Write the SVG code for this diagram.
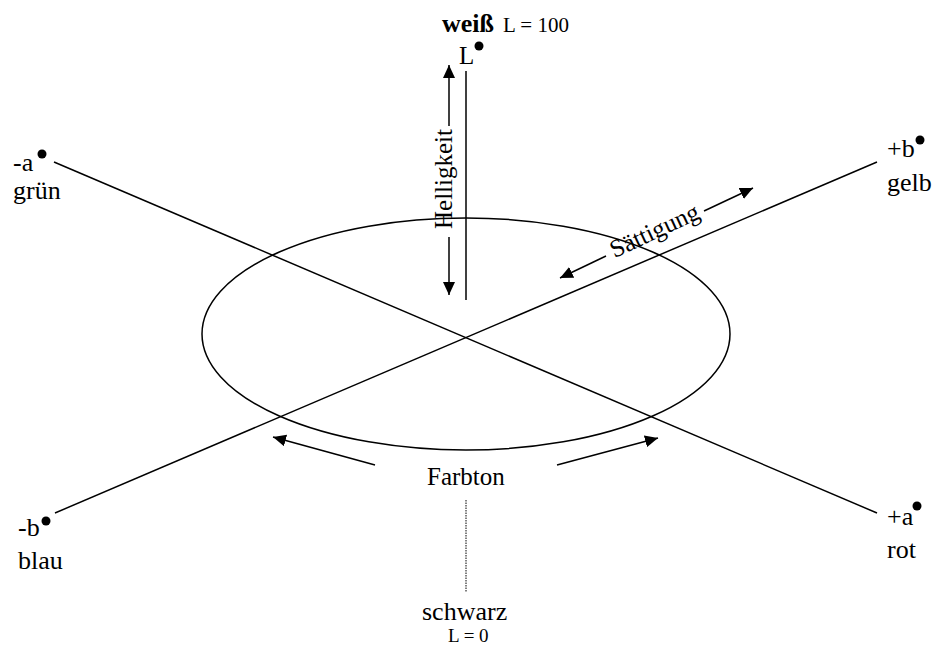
<svg xmlns="http://www.w3.org/2000/svg" width="937" height="646" viewBox="0 0 937 646">
<style>
text{font-family:"Liberation Serif","Times New Roman",serif;fill:#000}
.lbl{font-size:26px}
.sm{font-size:20px}
.mid{font-size:25px}
.ln{stroke:#000;stroke-width:1.5;fill:none}
.arr{stroke:#000;stroke-width:1.5;fill:none;marker-end:url(#ah)}
.dot{fill:#000}
</style>
<defs>
<marker id="ah" markerUnits="userSpaceOnUse" markerWidth="14" markerHeight="12" refX="13" refY="6" orient="auto">
<path d="M0,0 L13,6 L0,12 Z" fill="#000"/>
</marker>
</defs>
<rect width="937" height="646" fill="#fff"/>
<g id="farbkreis">
<ellipse cx="466" cy="334" rx="264" ry="116" class="ln" stroke-width="1.4"/>
</g>
<g id="connectors">
<line class="ln" x1="54" y1="162" x2="877" y2="513"/>
<line class="ln" x1="55" y1="513" x2="877" y2="162"/>
<line class="ln" x1="466" y1="71" x2="466" y2="300"/>
<line x1="466" y1="500" x2="466" y2="592" stroke="#000" stroke-width="1" stroke-dasharray="1.5 1"/>
<line class="arr" x1="449" y1="126" x2="449" y2="65"/>
<line class="arr" x1="449" y1="237" x2="449" y2="295"/>
<line class="arr" x1="606" y1="256" x2="560" y2="278"/>
<line class="arr" x1="704" y1="211" x2="753" y2="188"/>
<line class="arr" x1="375" y1="465" x2="273" y2="437"/>
<line class="arr" x1="557" y1="465" x2="658" y2="438"/>
</g>
<g id="node-weiss">
<text x="442" y="32" style="font-size:26px;font-weight:bold">weiß</text>
<text x="503" y="32" style="font-size:21px">L = 100</text>
<text x="459" y="64" class="mid">L</text>
<circle class="dot" cx="479" cy="46" r="4.5"/>
</g>
<g id="node-gruen">
<text x="13" y="171" class="lbl">-a</text>
<text x="13" y="199" class="lbl">grün</text>
<circle class="dot" cx="42" cy="154" r="4.5"/>
</g>
<g id="node-gelb">
<text x="887" y="157" class="lbl">+b</text>
<text x="887" y="191" class="lbl">gelb</text>
<circle class="dot" cx="920" cy="140" r="4.5"/>
</g>
<g id="node-blau">
<text x="18" y="536" class="lbl">-b</text>
<text x="18" y="569" class="lbl">blau</text>
<circle class="dot" cx="46" cy="521" r="4.5"/>
</g>
<g id="node-rot">
<text x="887" y="525" class="lbl">+a</text>
<text x="887" y="558" class="lbl">rot</text>
<circle class="dot" cx="917" cy="506" r="4.5"/>
</g>
<g id="node-schwarz">
<text x="422" y="620" class="lbl">schwarz</text>
<text x="448" y="642" style="font-size:19px">L = 0</text>
</g>
<g id="labels">
<text x="452" y="179" class="mid" text-anchor="middle" transform="rotate(-90 452 179)">Helligkeit</text>
<text x="658" y="238" class="mid" text-anchor="middle" transform="rotate(-25 658 238)">Sättigung</text>
<text x="427" y="485" class="mid">Farbton</text>
</g>
</svg>
